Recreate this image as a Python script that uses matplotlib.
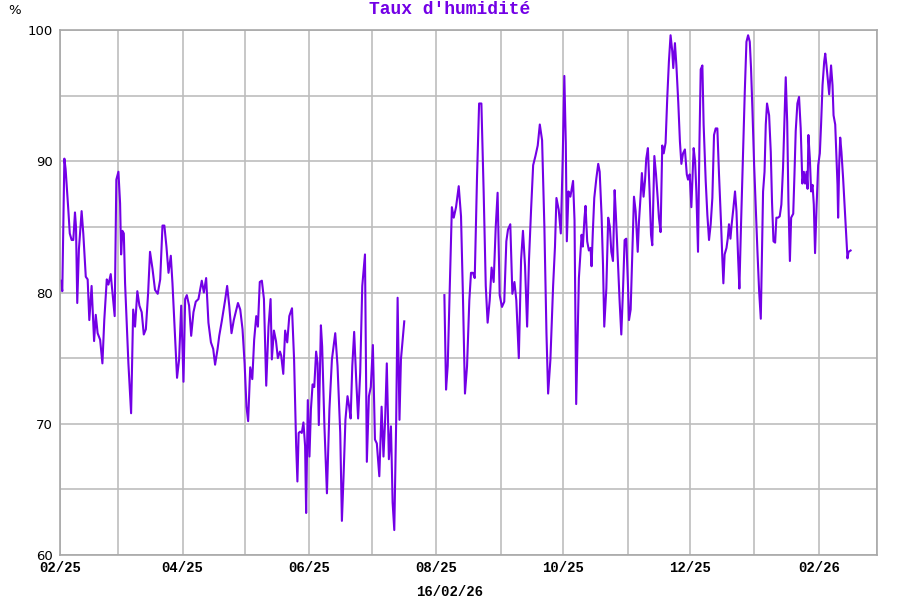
import pandas as pd
import matplotlib
matplotlib.use("Agg")
import matplotlib.pyplot as plt
import matplotlib.dates as mdates
import matplotlib.transforms as mtransforms
from matplotlib.ticker import MultipleLocator

# day offsets from 01/02/2025, humidity in %
start = pd.Timestamp("2025-02-01")

days1 = [0.0, 0.5, 1.1, 2.1, 2.7, 4.0, 4.7, 5.6, 6.4, 7.2, 7.7, 8.3, 9.1, 10.4, 11.2,
         12.4, 13.3, 14.1, 15.2, 16.4, 17.2, 18.1, 19.3, 20.4, 21.3, 22.5, 23.3, 24.4,
         25.4, 26.3, 27.1, 28.1, 28.9, 29.4, 30.0, 30.7, 31.3, 32.9, 34.2, 35.2, 36.1,
         37.2, 38.2, 39.3, 40.3, 41.3, 42.4, 43.3, 44.5, 45.7, 47.0, 48.2, 49.3, 50.2,
         51.2, 52.2, 53.3, 54.1, 55.1, 56.3, 57.3, 58.3, 59.4, 60.2, 61.0, 62.1, 63.1,
         64.2, 65.3, 66.6, 68.2, 69.2, 70.3, 71.4, 72.6, 73.7, 74.6, 75.8, 76.6, 77.8,
         79.5, 80.4, 81.4, 82.5, 83.6, 85.6, 86.7, 87.8, 88.8, 89.7, 90.5, 91.5, 92.5,
         93.4, 94.4, 95.2, 96.1, 97.1, 98.1, 99.2, 100.3, 101.3, 101.9, 102.9, 103.9,
         104.8, 105.8, 106.4, 107.4, 108.3, 109.3, 110.3, 111.6, 112.6, 113.6, 114.2,
         114.8, 115.5, 116.3, 117.1, 117.9, 118.4, 119.2, 120.0, 120.7, 121.5, 122.3,
         123.2, 123.9, 124.5, 125.5, 126.1, 127.2, 128.4, 129.6, 130.8, 132.4, 133.5,
         134.8, 135.6, 136.4, 137.3, 138.3, 139.1, 139.8, 140.6, 141.5, 142.5, 143.4,
         144.4, 145.4, 146.7, 147.6, 148.6, 149.5, 150.5, 151.5, 152.4, 153.6, 154.7,
         155.6, 156.4, 157.2, 158.2, 159.2, 160.0, 160.8, 161.7, 162.4, 163.3, 164.0,
         165.6]
hum1 = [80.9, 80.9, 80.1, 90.2, 89.4, 86.3, 84.5, 84.0, 84.0, 86.1, 85.0, 79.2, 83.3,
        86.2, 84.5, 81.2, 81.0, 77.9, 80.5, 76.3, 78.3, 76.9, 76.4, 74.6, 77.9, 81.0,
        80.6, 81.4, 79.7, 78.2, 88.6, 89.2, 86.8, 82.9, 84.7, 84.5, 80.7, 74.6, 70.8,
        78.7, 77.4, 80.1, 79.0, 78.5, 76.8, 77.2, 80.0, 83.1, 81.8, 80.2, 79.9, 81.0,
        85.1, 85.1, 83.5, 81.5, 82.8, 80.7, 77.4, 73.5, 74.9, 79.0, 73.2, 79.5, 79.8,
        79.0, 76.7, 78.5, 79.3, 79.5, 80.9, 80.0, 81.1, 77.7, 76.2, 75.7, 74.5, 75.7,
        76.7, 77.8, 79.5, 80.5, 79.0, 76.9, 77.9, 79.2, 78.7, 77.2, 74.6, 71.3, 70.2,
        74.3, 73.4, 76.4, 78.2, 77.4, 80.8, 80.9, 79.5, 72.9, 77.4, 79.5, 74.9, 77.1,
        76.3, 75.0, 75.5, 75.2, 73.8, 77.1, 76.2, 78.2, 78.8, 74.9, 68.3, 65.6, 69.3,
        69.4, 69.3, 70.1, 68.3, 63.2, 71.8, 67.5, 71.1, 73.0, 72.8, 75.5, 74.6, 69.9,
        77.5, 75.9, 69.8, 64.7, 71.1, 74.9, 76.9, 74.4, 69.3, 62.6, 66.0, 70.3, 72.1,
        71.3, 70.4, 74.4, 77.0, 73.3, 70.4, 73.9, 80.5, 82.9, 67.1, 72.1, 72.8, 76.0,
        68.8, 68.5, 66.0, 71.3, 67.5, 70.3, 74.6, 67.3, 69.8, 64.0, 61.9, 70.1, 79.6,
        70.3, 74.9, 77.8]

days2 = [184.9, 185.7, 186.5, 187.4, 188.5, 189.4, 190.5, 191.8, 192.9, 193.8, 194.8,
         195.8, 196.9, 197.7, 198.6, 199.5, 200.6, 201.6, 202.7, 203.8, 204.8, 205.7,
         206.7, 207.6, 208.6, 209.6, 210.5, 211.5, 212.6, 213.7, 214.7, 215.5, 216.6,
         217.6, 218.6, 219.5, 220.7, 221.8, 222.7, 223.7, 224.7, 225.6, 226.6, 227.6,
         228.7, 229.8, 230.8, 231.9, 233.0, 234.0, 234.8, 235.9, 237.2, 238.1, 238.8,
         239.9, 240.9, 241.8, 242.6, 243.3, 243.8, 244.6, 245.5, 246.8, 247.5, 248.3,
         249.0, 249.6, 250.4, 250.9, 251.5, 252.3, 252.8, 253.6, 254.4, 255.2, 255.7,
         256.3, 257.0, 258.0, 258.9, 259.6, 260.5, 261.2, 261.8, 262.8, 263.7, 264.5,
         265.2, 266.0, 266.8, 267.4, 268.2, 269.2, 270.0, 270.8, 271.6, 272.4, 273.2,
         273.7, 274.5, 275.3, 276.1, 276.9, 277.9, 278.5, 279.3, 279.9, 280.7, 281.4,
         282.0, 282.8, 283.6, 284.3, 284.9, 285.9, 286.7, 287.5, 288.1, 288.9, 289.7,
         290.4, 291.3, 292.1, 292.9, 293.7, 294.5, 295.0, 295.8, 296.5, 297.4, 298.2,
         298.9, 299.7, 300.6, 301.5, 302.1, 302.9, 303.7, 304.2, 304.8, 305.5, 306.1,
         306.9, 307.6, 308.2, 309.0, 309.6, 310.6, 311.4, 312.2, 313.0, 313.8, 314.6,
         315.4, 316.2, 317.0, 318.0, 318.6, 319.1, 319.7, 320.6, 321.2, 321.8, 322.5,
         323.1, 323.9, 324.7, 325.4, 326.2, 326.8, 327.6, 328.6, 329.4, 330.2, 331.0,
         331.8, 332.4, 333.1, 333.9, 334.7, 335.5, 336.3, 337.1, 337.6, 338.2, 338.9,
         339.5, 340.1, 341.1, 341.9, 342.5, 343.2, 344.0, 344.6, 345.4, 346.2, 347.0,
         347.8, 348.5, 349.1, 349.8, 350.4, 351.1, 351.7, 352.7, 353.3, 353.9, 354.7,
         355.5, 356.3, 357.1, 357.8, 358.4, 359.1, 359.6, 360.0, 360.7, 361.3, 362.0,
         362.6, 363.2, 363.9, 364.7, 365.5, 366.1, 366.8, 367.6, 368.1, 368.7, 369.3,
         370.0, 370.5, 370.9, 371.6, 372.1, 372.9, 373.5, 374.0, 374.3, 374.8, 375.3,
         375.9, 376.7, 377.4, 378.0, 378.8, 379.3, 380.3]
hum2 = [79.8, 72.6, 74.4, 79.9, 86.5, 85.7, 86.5, 88.1, 85.8, 79.9, 72.3, 74.4, 79.4,
        81.5, 81.5, 81.1, 88.8, 94.4, 94.4, 87.6, 80.5, 77.7, 79.4, 81.9, 80.8, 85.0,
        87.6, 79.8, 78.9, 79.3, 83.9, 84.8, 85.2, 79.9, 80.8, 79.4, 75.0, 82.5, 84.7,
        82.0, 77.4, 82.5, 86.3, 89.7, 90.4, 91.2, 92.8, 91.6, 85.0, 76.9, 72.3, 74.9,
        80.5, 83.5, 87.2, 86.3, 84.5, 90.1, 96.5, 91.4, 83.9, 87.7, 87.3, 88.5, 85.5,
        71.5, 76.8, 81.1, 83.1, 84.4, 83.5, 85.7, 86.6, 83.9, 83.2, 83.4, 82.0, 84.6,
        87.2, 88.7, 89.8, 89.2, 85.9, 82.1, 77.4, 80.3, 85.7, 85.0, 83.1, 82.4, 87.8,
        85.9, 82.9, 79.3, 76.8, 80.1, 84.0, 84.1, 80.6, 77.9, 78.7, 82.9, 87.3, 86.2,
        83.1, 85.4, 87.4, 89.1, 87.3, 88.5, 90.2, 91.0, 87.7, 84.4, 83.6, 90.4, 89.0,
        87.2, 85.7, 84.6, 91.2, 90.6, 91.4, 94.8, 97.6, 99.6, 98.4, 97.1, 99.0, 97.3,
        94.5, 91.5, 89.8, 90.6, 90.9, 89.0, 88.6, 89.0, 86.5, 88.5, 91.0, 90.0, 87.7,
        83.1, 91.5, 97.0, 97.3, 92.8, 88.5, 85.9, 84.0, 85.2, 87.2, 92.0, 92.5, 92.5,
        89.0, 85.2, 82.6, 80.7, 82.9, 83.4, 84.1, 85.2, 84.1, 85.2, 86.4, 87.7, 86.2,
        82.6, 80.3, 85.2, 90.7, 95.3, 99.1, 99.6, 99.1, 97.1, 93.8, 89.7, 86.4, 83.1,
        80.1, 78.0, 82.6, 87.7, 89.2, 92.8, 94.4, 93.5, 90.7, 86.9, 83.9, 83.8, 85.7,
        85.7, 85.8, 86.7, 89.5, 93.3, 96.4, 93.0, 86.9, 82.4, 85.7, 86.0, 89.0, 92.3,
        94.4, 94.9, 92.5, 88.3, 89.2, 88.3, 89.2, 87.9, 92.0, 90.2, 87.7, 88.2, 86.7,
        83.0, 86.4, 89.7, 90.6, 92.8, 95.8, 97.6, 98.2, 97.3, 96.3, 95.1, 96.3, 97.3,
        95.8, 93.5, 92.8, 90.2, 88.2, 85.7, 89.7, 91.8, 90.7, 88.7, 86.7, 84.9, 82.6,
        83.1, 83.2]

purple = "#7300e6"
grid_col = "#bdbdbd"
mono = ["Liberation Mono", "DejaVu Sans Mono"]

fig = plt.figure(figsize=(9, 6), dpi=100)
ax = fig.add_axes([60 / 900, 1 - 555 / 600, 817 / 900, 525 / 600])

x1 = start + pd.to_timedelta(days1, unit="D")
x2 = start + pd.to_timedelta(days2, unit="D")
ax.plot(x1, hum1, color=purple, lw=1.5)
ax.plot(x2, hum2, color=purple, lw=1.5)

ax.set_xlim(pd.Timestamp("2025-02-01"), pd.Timestamp("2026-03-01"))
ax.set_ylim(60, 100)

ax.xaxis.set_major_locator(mdates.MonthLocator(bymonth=[2, 4, 6, 8, 10, 12]))
ax.xaxis.set_minor_locator(mdates.MonthLocator())
ax.xaxis.set_major_formatter(mdates.DateFormatter("%m/%y"))
ax.yaxis.set_major_locator(MultipleLocator(10))
ax.yaxis.set_minor_locator(MultipleLocator(5))

ax.grid(True, which="both", color=grid_col, lw=1.2)
ax.set_axisbelow(True)
ax.tick_params(which="both", length=0)
ax.tick_params(axis="x", pad=4.5)
ax.tick_params(axis="y", pad=5)
for lab in ax.get_xticklabels():
    lab.set_fontfamily(mono)
    lab.set_fontweight("bold")
    lab.set_fontsize(10)
ylabs = ax.get_yticklabels()
for lab in ylabs:
    lab.set_fontfamily("DejaVu Sans")
    lab.set_fontsize(9.5)
# lift the bottom "60" a little so it sits above "02/25"
up = mtransforms.ScaledTranslation(0, 2.5 / 72, fig.dpi_scale_trans)
ylabs[0].set_transform(ylabs[0].get_transform() + up)
for s in ax.spines.values():
    s.set_color("#a8a8a8")
    s.set_linewidth(1.2)

fig.text(0.5, 1 - 10 / 600, "Taux d'humidité", ha="center", va="center",
         color=purple, family=mono, weight="bold", fontsize=13)
fig.text(15 / 900, 1 - 10 / 600, "%", ha="center", va="center",
         family="DejaVu Sans", fontsize=9.5)
fig.text(0.5, 1 - 592 / 600, "16/02/26", ha="center", va="center",
         family=mono, weight="bold", fontsize=10)

fig.savefig("out.png", dpi=100, facecolor="white")
